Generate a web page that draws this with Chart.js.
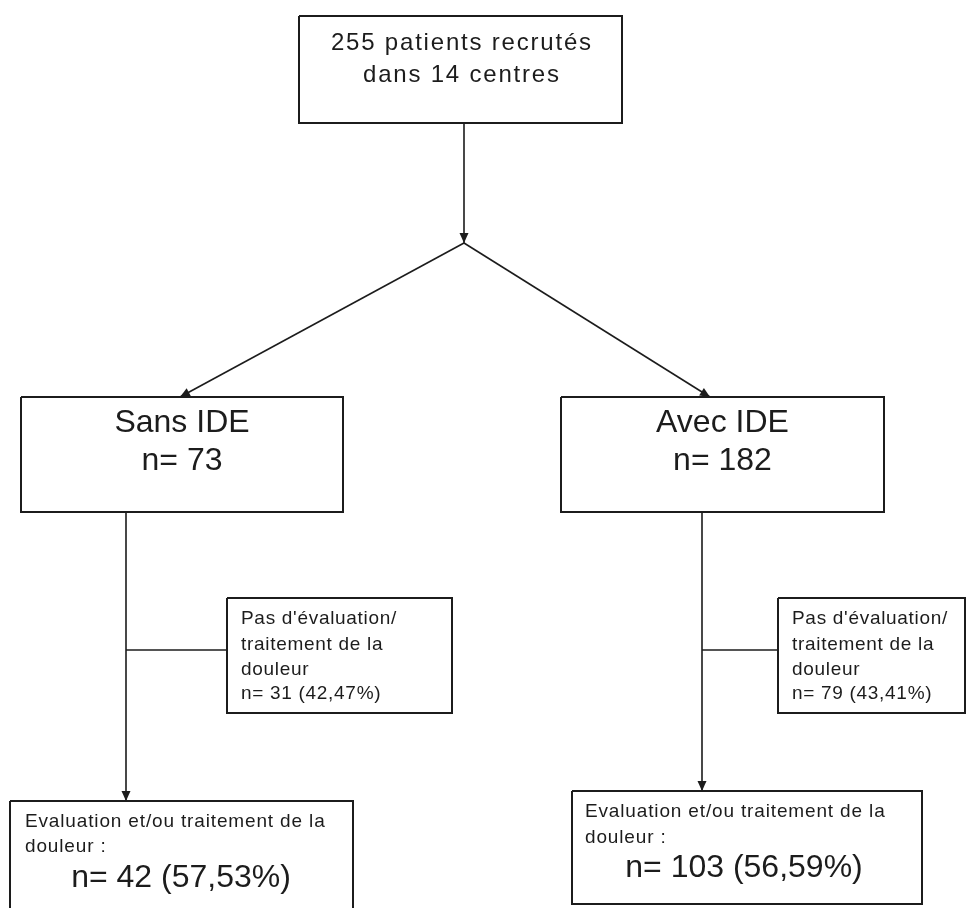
<!DOCTYPE html>
<html>
<head>
<meta charset="utf-8">
<script src="https://cdn.jsdelivr.net/npm/chart.js@4/dist/chart.umd.min.js"></script>
<style>
  html, body { margin: 0; padding: 0; background: #fff; }
  #flow { display: block; }
</style>
</head>
<body>
<canvas id="flow" width="966" height="908"></canvas>
<script>
"use strict";

// study numbers
const totalPatients = 255;
const centreCount = 14;
const groupNames = ["Sans IDE", "Avec IDE"];
const groupN = [73, 182];
const noEvalN = [31, 79];
const noEvalPct = ["42,47%", "43,41%"];
const evalN = [42, 103];
const evalPct = ["57,53%", "56,59%"];

// page geometry (pixel units, y pointing down)
const W = 966;
const H = 908;
const topBox = { x0: 299, x1: 622, y0: 16, y1: 123 };
const groupBoxes = [
  { x0: 21, x1: 343, y0: 397, y1: 512 },
  { x0: 561, x1: 884, y0: 397, y1: 512 },
];
const sideBoxes = [
  { x0: 227, x1: 452, y0: 598, y1: 713 },
  { x0: 778, x1: 965, y0: 598, y1: 713 },
];
const endBoxes = [
  { x0: 10, x1: 353, y0: 801, y1: 930 },
  { x0: 572, x1: 922, y0: 791, y1: 904 },
];
const apex = { x: 464, y: 243 };
const trunkX = [126, 702];
const branchY = 650;
const groupArrowX = [180, 710];

const INK = "#1c1c1c";
const FONT = '"Liberation Sans", Arial, Helvetica, sans-serif';

function rect(b) {
  return [
    { x: b.x0, y: b.y0 }, { x: b.x1, y: b.y0 },
    { x: b.x1, y: b.y1 }, { x: b.x0, y: b.y1 }, { x: b.x0, y: b.y0 },
  ];
}

function boxSet(b) {
  return { data: rect(b), borderWidth: 2 };
}

function lineSet(pts, arrow) {
  return { data: pts, borderWidth: 1.6, arrow: !!arrow };
}

let datasets = [boxSet(topBox)];
datasets.push(lineSet([{ x: apex.x, y: topBox.y1 }, { x: apex.x, y: apex.y }], true));
groupBoxes.forEach((b, i) => {
  datasets.push(boxSet(b));
  datasets.push(lineSet([{ x: apex.x, y: apex.y }, { x: groupArrowX[i], y: b.y0 }], true));
  datasets.push(boxSet(sideBoxes[i]));
  datasets.push(boxSet(endBoxes[i]));
  datasets.push(lineSet([{ x: trunkX[i], y: b.y1 }, { x: trunkX[i], y: endBoxes[i].y0 }], true));
  datasets.push(lineSet([{ x: trunkX[i], y: branchY }, { x: sideBoxes[i].x0, y: branchY }]));
});
datasets = datasets.map((d) => Object.assign({
  showLine: true,
  pointRadius: 0,
  borderColor: INK,
  tension: 0,
  fill: false,
}, d));

// text labels: [x, y, text, size, align, spacing]
const labels = [
  [461, 43, `${totalPatients} patients recrutés`, 24, "center", 1.8],
  [461, 75, `dans ${centreCount} centres`, 24, "center", 1.8],
];
groupNames.forEach((name, i) => {
  const b = groupBoxes[i];
  const cx = (b.x0 + b.x1) / 2;
  labels.push([cx, 423, name, 32, "center", 0]);
  labels.push([cx, 461, `n= ${groupN[i]}`, 32, "center", 0]);
  const s = sideBoxes[i];
  const sx = s.x0 + 14;
  labels.push([sx, 619, "Pas d'évaluation/", 19, "left", 0.7]);
  labels.push([sx, 645, "traitement de la", 19, "left", 0.7]);
  labels.push([sx, 670, "douleur", 19, "left", 0.7]);
  labels.push([sx, 694, `n= ${noEvalN[i]} (${noEvalPct[i]})`, 19, "left", 0.7]);
});
const endText = [
  { x: 25, y1: 822, y2: 847, cx: 181, y3: 878 },
  { x: 585, y1: 812, y2: 838, cx: 744, y3: 868 },
];
endText.forEach((t, i) => {
  labels.push([t.x, t.y1, "Evaluation et/ou traitement de la", 19, "left", 0.85]);
  labels.push([t.x, t.y2, "douleur :", 19, "left", 0.85]);
  labels.push([t.cx, t.y3, `n= ${evalN[i]} (${evalPct[i]})`, 32, "center", 0]);
});

const arrowHeads = {
  id: "arrowHeads",
  afterDatasetsDraw(chart) {
    const ctx = chart.ctx;
    chart.data.datasets.forEach((ds, i) => {
      if (!ds.arrow) return;
      const pts = chart.getDatasetMeta(i).data;
      const a = pts[pts.length - 2];
      const b = pts[pts.length - 1];
      const ang = Math.atan2(b.y - a.y, b.x - a.x);
      const len = 10, half = 4.5;
      ctx.save();
      ctx.fillStyle = INK;
      ctx.translate(b.x, b.y);
      ctx.rotate(ang);
      ctx.beginPath();
      ctx.moveTo(0, 0);
      ctx.lineTo(-len, -half);
      ctx.lineTo(-len, half);
      ctx.closePath();
      ctx.fill();
      ctx.restore();
    });
  },
};

const boxText = {
  id: "boxText",
  afterDatasetsDraw(chart) {
    const ctx = chart.ctx;
    const sx = chart.scales.x;
    const sy = chart.scales.y;
    ctx.save();
    ctx.fillStyle = INK;
    ctx.textBaseline = "middle";
    labels.forEach(([x, y, text, size, align, spacing]) => {
      ctx.font = `${size}px ${FONT}`;
      ctx.letterSpacing = `${spacing}px`;
      ctx.textAlign = align;
      let px = sx.getPixelForValue(x);
      // letter spacing adds a trailing gap; shift centred text back by half of it
      if (align === "center") px += spacing / 2;
      ctx.fillText(text, px, sy.getPixelForValue(y));
    });
    ctx.restore();
  },
};

new Chart(document.getElementById("flow"), {
  type: "scatter",
  data: { datasets: datasets },
  options: {
    responsive: false,
    animation: false,
    devicePixelRatio: 1,
    layout: { padding: 0 },
    plugins: { legend: { display: false }, tooltip: { enabled: false } },
    scales: {
      x: { type: "linear", min: 0, max: W, display: false },
      y: { type: "linear", min: 0, max: H, reverse: true, display: false },
    },
  },
  plugins: [arrowHeads, boxText],
});
</script>
</body>
</html>
